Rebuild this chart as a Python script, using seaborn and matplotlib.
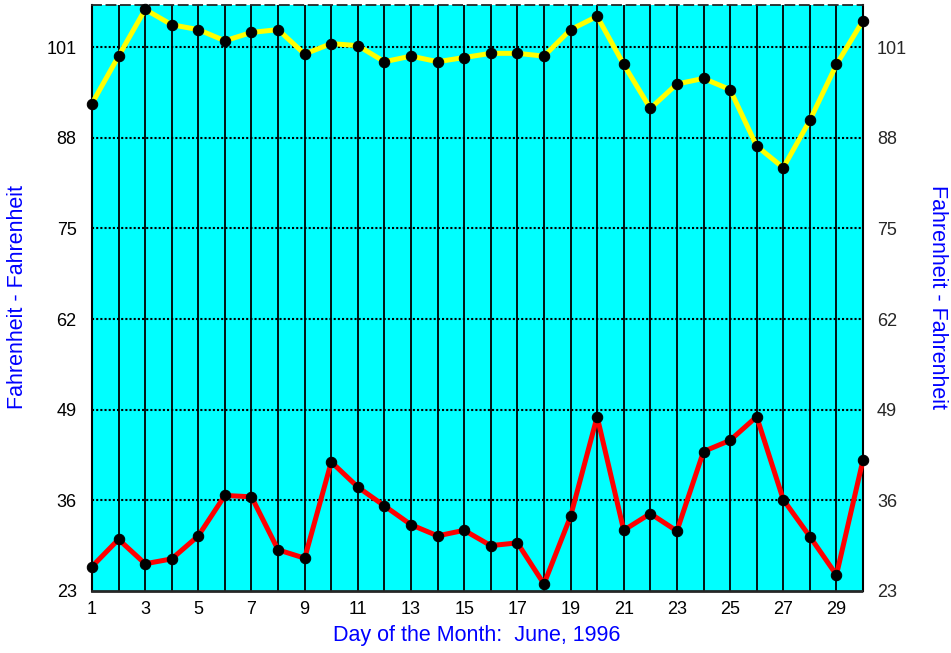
import numpy as np
import pandas as pd
import matplotlib
matplotlib.use("Agg")
import matplotlib.pyplot as plt
import seaborn as sns

days = list(range(1, 31))
high_f = [92.9, 99.7, 106.4, 104.2, 103.5, 101.9, 103.1, 103.5, 100.0, 101.5,
          101.2, 98.9, 99.7, 98.9, 99.5, 100.1, 100.1, 99.7, 103.5, 105.4,
          98.5, 92.2, 95.7, 96.5, 94.9, 86.8, 83.7, 90.5, 98.5, 104.8]
low_f = [26.5, 30.4, 26.9, 27.6, 30.9, 36.7, 36.5, 28.9, 27.7, 41.5,
         37.9, 35.2, 32.5, 30.9, 31.7, 29.5, 29.9, 24.0, 33.7, 48.0,
         31.7, 34.1, 31.6, 43.0, 44.6, 48.0, 36.1, 30.8, 25.3, 41.8]
y_ticks = [23, 36, 49, 62, 75, 88, 101]
x_ticks = list(range(1, 30, 2))

df = pd.DataFrame({"day": days, "high": high_f, "low": low_f})

sns.set_style("white")
plt.rcParams['font.family'] = ['Liberation Sans', 'DejaVu Sans']

fig = plt.figure(figsize=(9.51, 6.53), dpi=100)
ax = fig.add_axes([0.0967, 0.095, 0.8108, 0.897])
ax.set_facecolor("#00ffff")

# vertical grid at every day, dotted horizontal at ticks
for d in days:
    ax.axvline(d, color="black", lw=1.3, zorder=1)
for t in y_ticks[1:]:
    ax.axhline(t, color="black", lw=1.5, ls=(0, (1, 1)), zorder=1)

sns.lineplot(data=df, x="day", y="high", ax=ax, color="yellow", lw=3.6,
             marker="o", markersize=7.5, markerfacecolor="black",
             markeredgecolor="black", zorder=3, clip_on=False)
sns.lineplot(data=df, x="day", y="low", ax=ax, color="red", lw=3.6,
             marker="o", markersize=7.5, markerfacecolor="black",
             markeredgecolor="black", zorder=3, clip_on=False)

ax.set_xlim(1, 30)
ax.set_ylim(23, 107)
ax.set_xticks(x_ticks)
ax.set_yticks(y_ticks)
ax.tick_params(axis="x", length=0, labelsize=13, colors="black", pad=7)
ax.tick_params(axis="y", length=0, labelsize=13, colors="black", pad=11)

for side in ["left", "right"]:
    ax.spines[side].set_color("black")
    ax.spines[side].set_linewidth(1.5)
ax.spines["top"].set_linestyle((0, (5, 3)))
ax.spines["top"].set_linewidth(1.3)
ax.spines["bottom"].set_linestyle((0, (1, 1)))
ax.spines["bottom"].set_linewidth(2)
ax.set_xlabel("")
ax.set_ylabel("")

ax2 = ax.twinx()
ax2.set_ylim(23, 107)
ax2.set_yticks(y_ticks)
ax2.tick_params(axis="y", length=0, labelsize=13, pad=10)
for s in ax2.spines.values():
    s.set_visible(False)

# axis titles placed as in the original
fig.text(477 / 951, 1 - 636 / 653, "Day of the Month:  June, 1996", color="blue",
         fontsize=15.5, ha="center", va="center")
fig.text(18 / 951, 1 - 297 / 653, "Fahrenheit - Fahrenheit", color="blue",
         fontsize=15.5, rotation=90, ha="center", va="center")
fig.text(937 / 951, 1 - 297 / 653, "Fahrenheit - Fahrenheit", color="blue",
         fontsize=15.5, rotation=-90, ha="center", va="center")

fig.savefig("out.png", dpi=100)
